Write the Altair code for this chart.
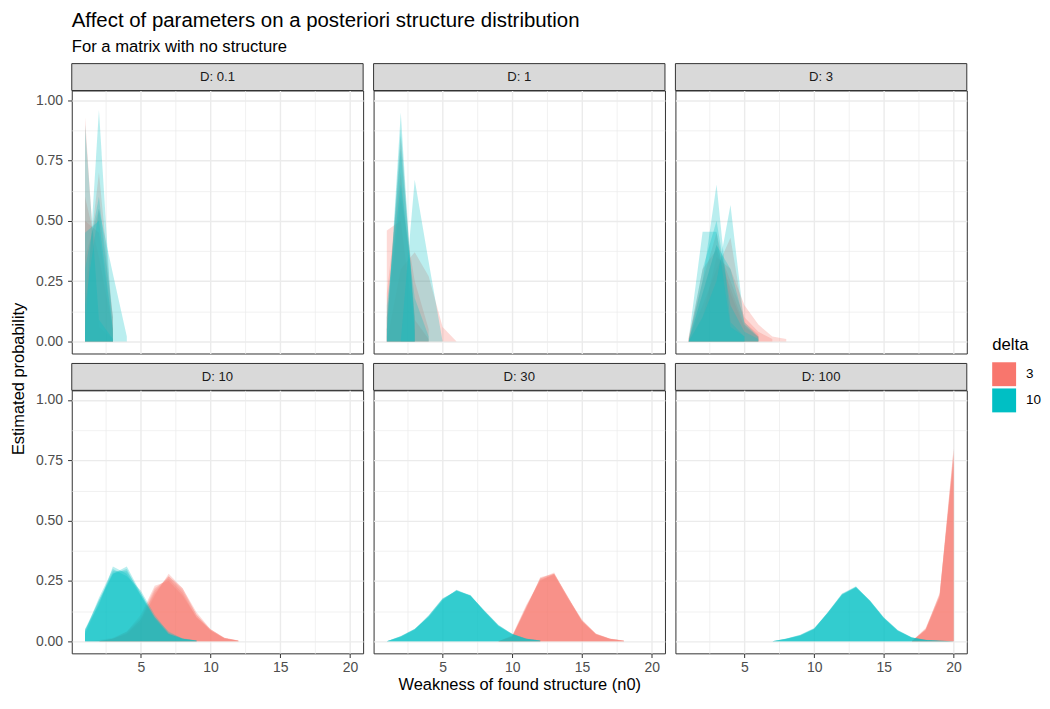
import altair as alt
import pandas as pd

FONT = "Liberation Sans"
PANELS = ["0.1", "1", "3", "10", "30", "100"]
DELTAS = ["3", "10"]
COLORS = ["#F8766D", "#00BFC4"]

# Each run lists the estimated probability for n0 = START, START+1, ...
# (values beyond the list are zero)
D01_START = 1
D01_DELTA3 = [
    [0.93, 0.06, 0.01],
    [0.50, 0.45, 0.05],
    [0.35, 0.55, 0.10],
    [0.60, 0.35, 0.05],
    [0.20, 0.70, 0.10],
]
D01_DELTA10 = [
    [0.02, 0.96, 0.02],
    [0.30, 0.60, 0.10],
    [0.15, 0.55, 0.28, 0.02],
    [0.90, 0.09, 0.01],
    [0.45, 0.50, 0.05],
]

D1_START = 1
D1_DELTA3 = [
    [0.46, 0.50, 0.04],
    [0.10, 0.60, 0.25, 0.05],
    [0.00, 0.30, 0.37, 0.27, 0.06, 0.00],
    [0.20, 0.70, 0.09, 0.01],
    [0.05, 0.85, 0.10],
]
D1_DELTA10 = [
    [0.02, 0.95, 0.03],
    [0.00, 0.00, 0.67, 0.33, 0.00],
    [0.10, 0.80, 0.10],
    [0.15, 0.65, 0.18, 0.02],
    [0.05, 0.88, 0.07],
]

D3_START = 1
D3_DELTA3 = [
    [0.00, 0.20, 0.40, 0.25, 0.10, 0.04, 0.01],
    [0.01, 0.15, 0.30, 0.43, 0.08, 0.03],
    [0.02, 0.25, 0.45, 0.20, 0.06, 0.02],
    [0.00, 0.10, 0.35, 0.30, 0.15, 0.07, 0.02, 0.01],
    [0.01, 0.30, 0.38, 0.22, 0.07, 0.02],
]
D3_DELTA10 = [
    [0.00, 0.25, 0.65, 0.08, 0.02],
    [0.00, 0.10, 0.25, 0.565, 0.07, 0.015],
    [0.01, 0.455, 0.455, 0.06, 0.02],
    [0.00, 0.30, 0.50, 0.15, 0.04, 0.01],
    [0.00, 0.20, 0.40, 0.30, 0.08, 0.02],
]

D10_START = 1
D10_DELTA3 = [
    [0.0, 0.000, 0.010, 0.030, 0.090, 0.210, 0.270, 0.210, 0.110, 0.045, 0.012, 0.002],
    [0.0, 0.000, 0.010, 0.040, 0.100, 0.220, 0.260, 0.200, 0.100, 0.050, 0.015, 0.003],
    [0.0, 0.000, 0.010, 0.030, 0.080, 0.190, 0.280, 0.220, 0.120, 0.050, 0.015, 0.003],
    [0.0, 0.005, 0.015, 0.040, 0.110, 0.230, 0.250, 0.190, 0.100, 0.045, 0.012, 0.002],
    [0.0, 0.000, 0.010, 0.035, 0.090, 0.200, 0.270, 0.220, 0.110, 0.050, 0.013, 0.002],
]
D10_DELTA10 = [
    [0.04, 0.17, 0.29, 0.29, 0.20, 0.10, 0.030, 0.010, 0.003],
    [0.05, 0.15, 0.31, 0.28, 0.19, 0.09, 0.030, 0.010, 0.003],
    [0.03, 0.16, 0.28, 0.31, 0.20, 0.10, 0.040, 0.010, 0.002],
    [0.04, 0.18, 0.30, 0.27, 0.21, 0.11, 0.035, 0.012, 0.003],
    [0.05, 0.17, 0.28, 0.30, 0.19, 0.10, 0.030, 0.010, 0.002],
]

D30_DELTA3_START = 9
D30_DELTA3 = [
    [0.0, 0.020, 0.140, 0.260, 0.280, 0.180, 0.085, 0.030, 0.010, 0.002],
    [0.0, 0.025, 0.150, 0.255, 0.275, 0.175, 0.085, 0.030, 0.010, 0.002],
    [0.0, 0.020, 0.135, 0.265, 0.280, 0.185, 0.080, 0.028, 0.009, 0.002],
    [0.0, 0.018, 0.140, 0.260, 0.285, 0.180, 0.090, 0.030, 0.010, 0.002],
    [0.0, 0.022, 0.145, 0.250, 0.280, 0.180, 0.085, 0.032, 0.011, 0.003],
]
D30_DELTA10_START = 1
D30_DELTA10 = [
    [0.0, 0.020, 0.050, 0.105, 0.175, 0.210, 0.190, 0.125, 0.065, 0.030, 0.010, 0.003],
    [0.0, 0.022, 0.052, 0.100, 0.170, 0.212, 0.188, 0.128, 0.068, 0.030, 0.010, 0.003],
    [0.0, 0.018, 0.048, 0.108, 0.178, 0.208, 0.192, 0.122, 0.062, 0.028, 0.009, 0.002],
    [0.0, 0.020, 0.050, 0.102, 0.172, 0.214, 0.190, 0.126, 0.066, 0.031, 0.011, 0.003],
    [0.0, 0.021, 0.051, 0.106, 0.176, 0.209, 0.189, 0.124, 0.064, 0.029, 0.010, 0.003],
]

D100_DELTA3_START = 17
D100_DELTA3 = [
    [0.0, 0.050, 0.190, 0.800],
    [0.0, 0.045, 0.180, 0.775],
    [0.0, 0.055, 0.195, 0.760],
    [0.0, 0.050, 0.185, 0.790],
    [0.0, 0.048, 0.200, 0.745],
]
D100_DELTA10_START = 7
D100_DELTA10 = [
    [0.0, 0.010, 0.025, 0.052, 0.120, 0.195, 0.225, 0.168, 0.097, 0.045, 0.016, 0.005, 0.002, 0.000],
    [0.0, 0.011, 0.027, 0.055, 0.118, 0.192, 0.222, 0.170, 0.100, 0.047, 0.017, 0.006, 0.002, 0.001],
    [0.0, 0.009, 0.023, 0.050, 0.122, 0.198, 0.228, 0.166, 0.094, 0.043, 0.015, 0.005, 0.002, 0.000],
    [0.0, 0.010, 0.026, 0.053, 0.121, 0.193, 0.226, 0.169, 0.096, 0.046, 0.016, 0.005, 0.002, 0.000],
    [0.0, 0.010, 0.024, 0.051, 0.119, 0.196, 0.224, 0.167, 0.098, 0.044, 0.016, 0.005, 0.002, 0.000],
]

SERIES = [
    ("0.1", "3", D01_START, D01_DELTA3),
    ("0.1", "10", D01_START, D01_DELTA10),
    ("1", "3", D1_START, D1_DELTA3),
    ("1", "10", D1_START, D1_DELTA10),
    ("3", "3", D3_START, D3_DELTA3),
    ("3", "10", D3_START, D3_DELTA10),
    ("10", "3", D10_START, D10_DELTA3),
    ("10", "10", D10_START, D10_DELTA10),
    ("30", "3", D30_DELTA3_START, D30_DELTA3),
    ("30", "10", D30_DELTA10_START, D30_DELTA10),
    ("100", "3", D100_DELTA3_START, D100_DELTA3),
    ("100", "10", D100_DELTA10_START, D100_DELTA10),
]

rows = []
for D, delta, start, runs in SERIES:
    for r, vals in enumerate(runs):
        for i, v in enumerate(vals):
            rows.append({"D": D, "delta": delta, "run": f"{delta}-{r}",
                         "n0": start + i, "p": v})
df = pd.DataFrame(rows)

W, H, SH, GAP = 292.5, 264, 27, 10
X_VALUES = [2.5, 5, 7.5, 10, 12.5, 15, 17.5, 20]
Y_VALUES = [0, 0.125, 0.25, 0.375, 0.5, 0.625, 0.75, 0.875, 1.0]
MINOR_X = "datum.value % 5 != 0"
MINOR_Y = "round(datum.value * 8) % 2 == 1"


def x_axis(show, title=None):
    kw = dict(values=X_VALUES, grid=True, domain=False, gridColor="#EBEBEB",
              gridWidth={"condition": {"test": MINOR_X, "value": 0.7}, "value": 1.4})
    if show:
        kw.update(labels=True, ticks=True, labelPadding=3,
                  labelExpr="datum.value % 5 == 0 ? format(datum.value, 'd') : ''",
                  tickOpacity={"condition": {"test": MINOR_X, "value": 0}, "value": 1})
    else:
        kw.update(labels=False, ticks=False)
    if title:
        kw.update(title=title, titleFont=FONT, titleFontSize=16.5, titleFontWeight="normal",
                  titleColor="black", titlePadding=2)
    else:
        kw.update(title=None)
    return alt.Axis(**kw)


def y_axis(show, title=None):
    kw = dict(values=Y_VALUES, grid=True, domain=False, gridColor="#EBEBEB",
              gridWidth={"condition": {"test": MINOR_Y, "value": 0.7}, "value": 1.4})
    if show:
        kw.update(labels=True, ticks=True, labelPadding=5,
                  labelExpr="round(datum.value * 8) % 2 == 0 ? format(datum.value, '.2f') : ''",
                  tickOpacity={"condition": {"test": MINOR_Y, "value": 0}, "value": 1})
    else:
        kw.update(labels=False, ticks=False)
    if title:
        kw.update(title=title, titleFont=FONT, titleFontSize=16.5, titleFontWeight="normal",
                  titleColor="black", titleX=-53, titleY=-12, titleAngle=270,
                  titleAlign="center", titleBaseline="middle")
    else:
        kw.update(title=None)
    return alt.Axis(**kw)


def strip(label, top_gap):
    base = alt.Chart(pd.DataFrame({"label": [label]}))
    rect = base.mark_rect(fill="#D9D9D9", stroke="#333333", strokeWidth=1).encode(
        x=alt.value(0), x2=alt.value(W), y=alt.value(top_gap), y2=alt.value(top_gap + SH))
    text = base.mark_text(font=FONT, fontSize=13.2, color="#1A1A1A").encode(
        x=alt.value(W / 2), y=alt.value(top_gap + SH / 2), text="label:N")
    return alt.layer(rect, text).properties(
        width=W, height=top_gap + SH, view=alt.ViewBackground(stroke="transparent"))


def panel(i):
    D = PANELS[i]
    row, col = divmod(i, 3)
    data = df[df["D"] == D]
    legend = alt.Legend(title="delta", orient="none", legendX=924, legendY=274,
                        symbolType="square", symbolSize=576, symbolOpacity=1,
                        symbolStrokeWidth=0, titleFont=FONT, titleFontSize=16.8,
                        titleFontWeight="normal", titleColor="black", labelFont=FONT,
                        labelFontSize=13.5, labelColor="black", rowPadding=2.3,
                        titlePadding=9, labelOffset=10)
    return alt.Chart(data).mark_area(opacity=0.27, strokeWidth=0).encode(
        x=alt.X("n0:Q", scale=alt.Scale(domain=[0.05, 20.95], nice=False, zero=False),
                axis=x_axis(row == 1, "Weakness of found structure (n0)" if i == 4 else None)),
        y=alt.Y("p:Q", stack=None, scale=alt.Scale(domain=[-0.05, 1.04], nice=False, zero=False),
                axis=y_axis(col == 0, "Estimated probability" if i == 3 else None)),
        y2=alt.datum(0),
        fill=alt.Fill("delta:N", scale=alt.Scale(domain=DELTAS, range=COLORS), legend=legend),
        detail="run:N",
    ).properties(width=W, height=H)


items = []
for r in range(2):
    for c in range(3):
        i = r * 3 + c
        items.append(strip("D: " + PANELS[i], 0 if r == 0 else GAP))
    for c in range(3):
        items.append(panel(r * 3 + c))

chart = alt.concat(*items, columns=3, spacing={"row": 0, "column": 10}, bounds="flush").properties(
    title=alt.TitleParams(
        "Affect of parameters on a posteriori structure distribution",
        subtitle="For a matrix with no structure",
        anchor="start", frame="group", font=FONT, fontSize=20.5, fontWeight="normal",
        color="black", subtitleFont=FONT, subtitleFontSize=16.7, subtitleColor="black",
        subtitlePadding=7.5, offset=7),
    padding={"left": 2, "top": 1.5, "right": 0, "bottom": 0},
).resolve_scale(fill="shared").configure_view(stroke="#333333", strokeWidth=1).configure_axis(
    labelFont=FONT, labelFontSize=14, labelColor="#4D4D4D", tickColor="#333333",
    tickSize=4.2, tickWidth=1,
)

chart.save("out.html", embed_options={"renderer": "svg", "actions": False})
